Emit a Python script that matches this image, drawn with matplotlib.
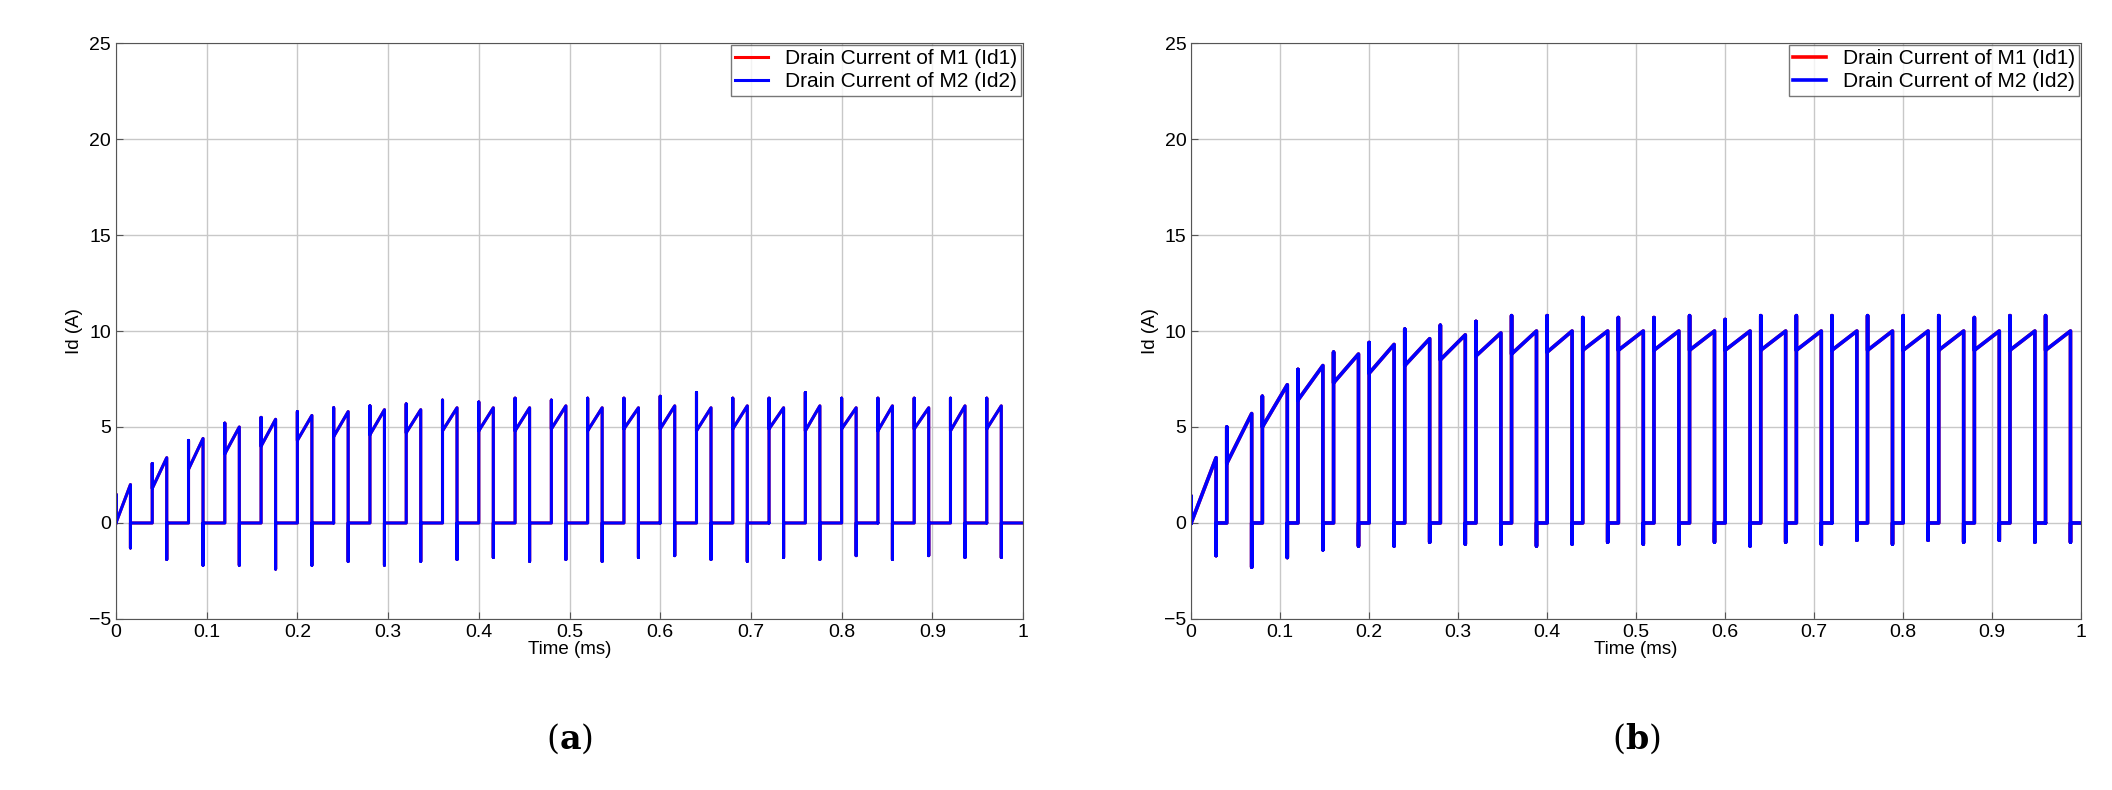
import numpy as np
import matplotlib
matplotlib.use("Agg")
import matplotlib.pyplot as plt

plt.rcParams['font.family'] = ['Liberation Sans', 'DejaVu Sans']
plt.rcParams['mathtext.fontset'] = 'dejavuserif'

PERIOD = 0.04
# panel (a): per switching pulse values
a_on = 0.016
a_start = [0.0, 1.8, 2.8, 3.6, 4.0, 4.3, 4.5, 4.6, 4.7, 4.8, 4.8, 4.8, 4.9, 4.8, 4.9, 4.9, 4.8, 4.9, 4.9, 4.8, 4.9, 4.8, 4.9, 4.8, 4.9]
a_spike = [1.5, 3.1, 4.3, 5.2, 5.5, 5.8, 6.0, 6.1, 6.2, 6.4, 6.3, 6.5, 6.4, 6.5, 6.5, 6.6, 6.8, 6.5, 6.5, 6.8, 6.5, 6.5, 6.5, 6.5, 6.5]
a_peak = [2.0, 3.4, 4.4, 5.0, 5.4, 5.6, 5.8, 5.9, 5.9, 6.0, 6.0, 6.0, 6.1, 6.0, 6.0, 6.1, 6.0, 6.1, 6.0, 6.1, 6.0, 6.1, 6.0, 6.1, 6.1]
a_neg = [-1.3, -1.9, -2.2, -2.2, -2.4, -2.2, -2.0, -2.2, -2.0, -1.9, -1.8, -2.0, -1.9, -2.0, -1.8, -1.7, -1.9, -2.0, -1.8, -1.9, -1.7, -1.9, -1.7, -1.8, -1.8]

# panel (b)
b_on = 0.028
b_start = [0.0, 3.1, 5.0, 6.4, 7.3, 7.8, 8.2, 8.5, 8.7, 8.8, 8.9, 9.0, 9.0, 9.0, 9.0, 9.0, 9.0, 9.0, 9.0, 9.0, 9.0, 9.0, 9.0, 9.0, 9.0]
b_spike = [1.4, 5.0, 6.6, 8.0, 8.9, 9.4, 10.1, 10.3, 10.5, 10.8, 10.8, 10.7, 10.7, 10.7, 10.8, 10.6, 10.8, 10.8, 10.8, 10.8, 10.8, 10.8, 10.7, 10.8, 10.8]
b_peak = [3.4, 5.7, 7.2, 8.2, 8.8, 9.3, 9.6, 9.8, 9.9, 10.0, 10.0, 10.0, 10.0, 10.0, 10.0, 10.0, 10.0, 10.0, 10.0, 10.0, 10.0, 10.0, 10.0, 10.0, 10.0]
b_neg = [-1.7, -2.3, -1.8, -1.4, -1.2, -1.2, -1.0, -1.1, -1.1, -1.2, -1.1, -1.0, -1.1, -1.1, -1.0, -1.2, -1.0, -1.1, -0.9, -1.1, -0.9, -1.0, -0.9, -1.0, -1.0]


def waveform(on, start, spike, peak, neg):
    t, y = [], []
    for k in range(len(start)):
        t0 = k * PERIOD
        t1 = t0 + on
        t += [t0, t0, t0, t1, t1, t1, t0 + PERIOD]
        y += [0, spike[k], start[k], peak[k], neg[k], 0, 0]
    return np.array(t), np.array(y)


fig = plt.figure(figsize=(21.12, 7.9), dpi=100)
axes = [fig.add_axes([0.0549, 0.2165, 0.4295, 0.729]),
        fig.add_axes([0.564, 0.2165, 0.4214, 0.729])]
panels = [(a_on, a_start, a_spike, a_peak, a_neg, 2.2, "a"),
          (b_on, b_start, b_spike, b_peak, b_neg, 2.6, "b")]
for ax, (on, st, sp, pk, ng, lw, tag) in zip(axes, panels):
    t, y = waveform(on, st, sp, pk, ng)
    ax.plot(t, y, color="red", lw=lw, label="Drain Current of M1 (Id1)")
    ax.plot(t, y, color="blue", lw=lw, label="Drain Current of M2 (Id2)")
    ax.set_xlim(0, 1)
    ax.set_ylim(-5, 25)
    ax.set_xticks(np.arange(0, 1.01, 0.1))
    ax.set_xticklabels(["0"] + [f"{v:.1f}" for v in np.arange(0.1, 0.95, 0.1)] + ["1"])
    ax.set_yticks(np.arange(-5, 26, 5))
    ax.grid(color="#c8c8c8", lw=1)
    ax.tick_params(labelsize=14, direction="in", length=5, color="#555555")
    for s in ax.spines.values():
        s.set_color("#555555")
    ax.set_xlabel("Time (ms)", fontsize=13.5, labelpad=0)
    ax.set_ylabel("Id (A)", fontsize=13.5)
    leg = ax.legend(loc="upper right", fontsize=15, frameon=True, fancybox=False,
                    borderaxespad=0.1, handlelength=1.6, borderpad=0.2, labelspacing=0.2)
    leg.get_frame().set_edgecolor("#555555")
    leg.get_frame().set_linewidth(1)
    pos = ax.get_position()
    fig.text(pos.x0 + pos.width / 2, 0.065, r"$(\mathbf{" + tag + r"})$", ha="center",
             va="center", fontsize=24)

fig.savefig("out.png", dpi=100)
